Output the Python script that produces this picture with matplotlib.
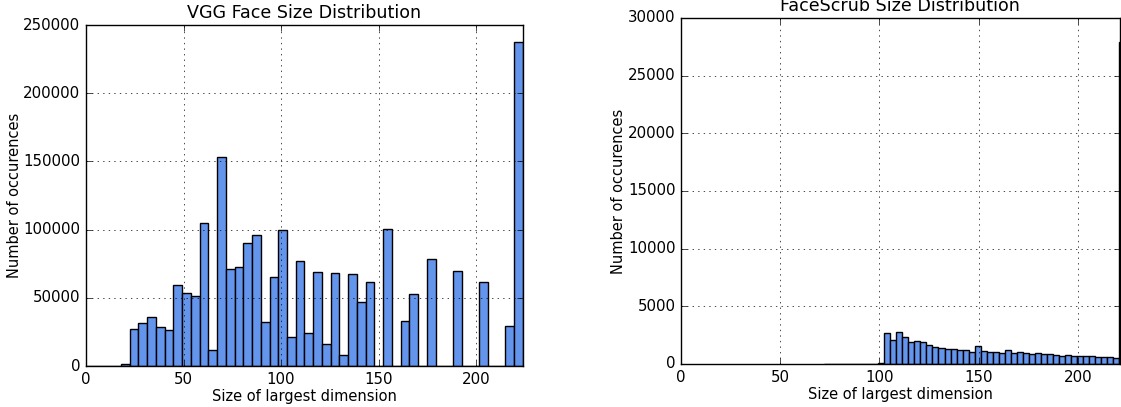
import numpy as np
import matplotlib
matplotlib.use("Agg")
import matplotlib.pyplot as plt

# VGG Face: 50 bins spanning 0..224
vgg_edges = np.linspace(0, 224, 51)
vgg_counts = [0, 0, 0, 0, 1500, 27400, 31800, 35700, 28600, 26700,
              59700, 53300, 51300, 105100, 12000, 153500, 71200, 72900, 90200, 96300,
              32300, 65000, 100000, 21500, 77300, 24500, 69000, 16100, 68200, 7800,
              67500, 46900, 61900, 0, 100200, 0, 33300, 53100, 0, 78500,
              0, 0, 69900, 0, 0, 61600, 0, 0, 29100, 237400]

# FaceScrub: 50 bins spanning 72..224
fs_edges = np.linspace(72, 224, 51)
fs_counts = [10, 15, 20, 20, 25, 30, 30, 35, 40, 60,
             2660, 2110, 2800, 2340, 1880, 1995, 1880, 1620, 1475, 1415,
             1300, 1270, 1240, 1215, 1040, 1530, 1130, 1070, 1070, 925,
             1185, 925, 1010, 925, 870, 925, 840, 840, 810, 695,
             810, 695, 665, 720, 665, 605, 605, 605, 520, 27900]


def plot_hist(ax, edges, counts, title, xmax, ymax, ystep):
    centers = (edges[:-1] + edges[1:]) / 2
    ax.hist(centers, bins=edges, weights=counts, color='cornflowerblue',
            edgecolor='black', linewidth=1.0)
    ax.set_xlim(0, xmax)
    ax.set_ylim(0, ymax)
    ax.set_xticks([0, 50, 100, 150, 200])
    ax.set_yticks(np.arange(0, ymax + 1, ystep))
    ax.set_title(title, fontsize=12.6)
    ax.set_xlabel('Size of largest dimension', labelpad=1.5)
    ax.set_ylabel('Number of occurences', labelpad=1)
    ax.grid(True)


plt.style.use('classic')
plt.rcParams['font.size'] = 10.5
plt.rcParams['xtick.labelsize'] = 10.8
plt.rcParams['ytick.labelsize'] = 10.8
plt.rcParams['axes.labelsize'] = 10.5
fig = plt.figure(figsize=(11.21, 4.07), dpi=100, facecolor='white')
ax1 = fig.add_axes([0.0767, 0.1007, 0.3898, 0.8378])
ax2 = fig.add_axes([0.6075, 0.1057, 0.3912, 0.8501])

plot_hist(ax1, vgg_edges, vgg_counts, 'VGG Face Size Distribution', 224, 250000, 50000)
plot_hist(ax2, fs_edges, fs_counts, 'FaceScrub Size Distribution', 221, 30000, 5000)

fig.savefig('out.png', dpi=100, facecolor='white')
